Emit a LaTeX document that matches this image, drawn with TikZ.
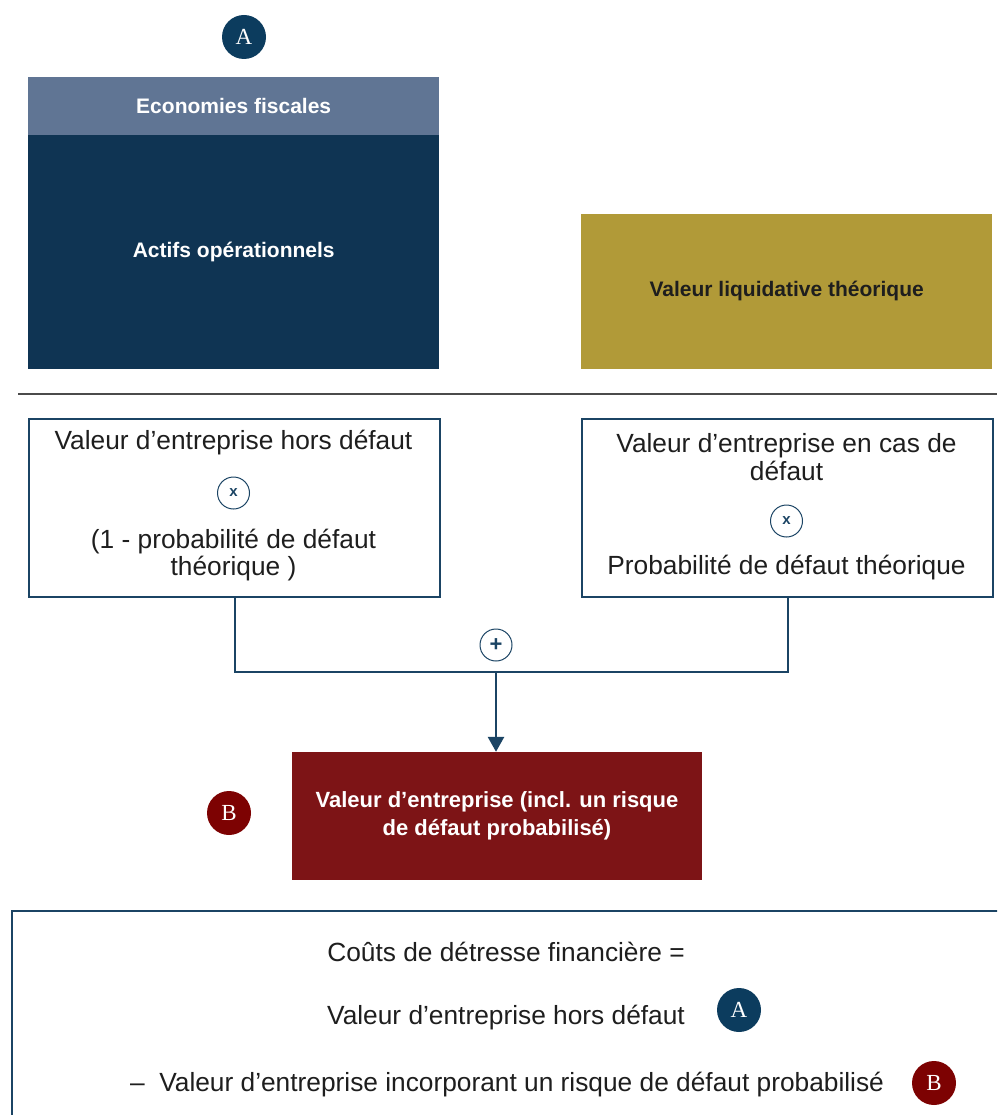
\documentclass[tikz,border=0pt]{standalone}
\usepackage{fontspec}
\setmainfont{Liberation Sans}
\newfontfamily\lettrefont{Liberation Serif}
\usepackage{tikz}
\usetikzlibrary{arrows.meta, positioning}

\definecolor{navyblue}{RGB}{15, 52, 83}
\definecolor{headerblue}{RGB}{96, 117, 148}
\definecolor{badgeblue}{RGB}{12, 60, 94}
\definecolor{goldbox}{RGB}{177, 154, 56}
\definecolor{redbox}{RGB}{125, 20, 22}
\definecolor{badgered}{RGB}{125, 2, 2}
\definecolor{linkblue}{RGB}{27, 68, 100}
\definecolor{darktext}{RGB}{30, 30, 30}

\begin{document}
\begin{tikzpicture}[
                x=1pt, y=-1pt,
                block/.style={
                    rectangle,
                    fill=navyblue,
                    text=white,
                    minimum width=411pt,
                    inner sep=0pt,
                    align=center,
                    font=\bfseries\fontsize{21}{28}\selectfont
                },
                frame/.style={
                    rectangle,
                    draw=linkblue,
                    line width=2pt,
                    minimum width=411pt,
                    minimum height=178pt
                },
                label/.style={
                    text=darktext,
                    align=center,
                    inner sep=0pt,
                    font=\fontsize{26.3}{27.5}\selectfont
                },
                badge/.style={
                    circle,
                    minimum size=44pt,
                    inner sep=0pt,
                    text=white,
                    font=\lettrefont\fontsize{23}{23}\selectfont
                },
                op/.style={
                    circle,
                    draw=linkblue,
                    line width=1pt,
                    fill=white,
                    minimum size=32pt,
                    inner sep=0pt,
                    text=linkblue,
                    font=\bfseries\fontsize{15}{15}\selectfont
                },
                link/.style={line width=2pt, linkblue},
                arrow/.style={-{Triangle[width=16pt,length=15pt]}, line width=2.8pt, linkblue}
            ]

            \clip (0,0) rectangle (997,1115);

            % Top Row
            \node (badgeA) [badge, fill=badgeblue] at (244,37) {A};

            \node (actifs) [block, minimum height=234pt, anchor=north west]
            at (28,135) {Actifs opérationnels};

            \node (fiscal) [block, fill=headerblue, minimum height=58pt,
            above=0pt of actifs] {Economies fiscales};

            \node (liquid) [block, fill=goldbox, text=darktext,
            minimum height=155pt, anchor=south west] at (581,369)
            {Valeur liquidative théorique};

            \draw [line width=1.2pt, darktext!80] (18,394) -- (997,394);

            % Middle Row
            \node (horsdefaut) [frame, anchor=north west] at (28,418) {};
            \node (enterHD) [label] at (233.5,443) {Valeur d’entreprise hors défaut};
            \node (foisA) [op] at (233.5,493) {x};
            \node (probA) [label] at (233.5,555)
            {(1 - probabilité de défaut\\théorique )};

            \node (defaut) [frame, anchor=north west] at (581,418) {};
            \node (enterD) [label] at (786.5,457)
            {Valeur d’entreprise en cas de\\défaut};
            \node (foisB) [op] at (786.5,521) {x};
            \node (probB) [label] at (786.5,568)
            {Probabilité de défaut théorique};

            % Sum
            \coordinate (jonction) at (496,672);
            \draw [link] (horsdefaut.south) |- (jonction) -| (defaut.south);
            \node (plus) [op, font=\bfseries\fontsize{22}{22}\selectfont] at (496,645) {+};

            \node (entreprise) [block, fill=redbox, minimum width=410pt,
            minimum height=128pt, font=\bfseries\fontsize{22}{28}\selectfont]
            at (497,816)
            {Valeur d’entreprise (incl. un risque\\de défaut probabilisé)};
            \draw [arrow] (jonction) -- (jonction |- entreprise.north);

            \node (badgeB) [badge, fill=badgered] at (229,813) {B};

            % Bottom Row
            \node (couts) [frame, minimum width=1020pt, minimum height=240pt,
            anchor=north west] at (11,910) {};
            \node (formule) [label] at (506,952) {Coûts de détresse financière =};
            \node (termeA) [label] at (506,1018) {Valeur d’entreprise hors défaut};
            \node (badgeA2) [badge, fill=badgeblue] at (739,1010) {A};
            \node (termeB) [label] at (507,1085)
            {–\ \ Valeur d’entreprise incorporant un risque de défaut probabilisé};
            \node (badgeB2) [badge, fill=badgered] at (934,1083) {B};

            \end{tikzpicture}
\end{document}
